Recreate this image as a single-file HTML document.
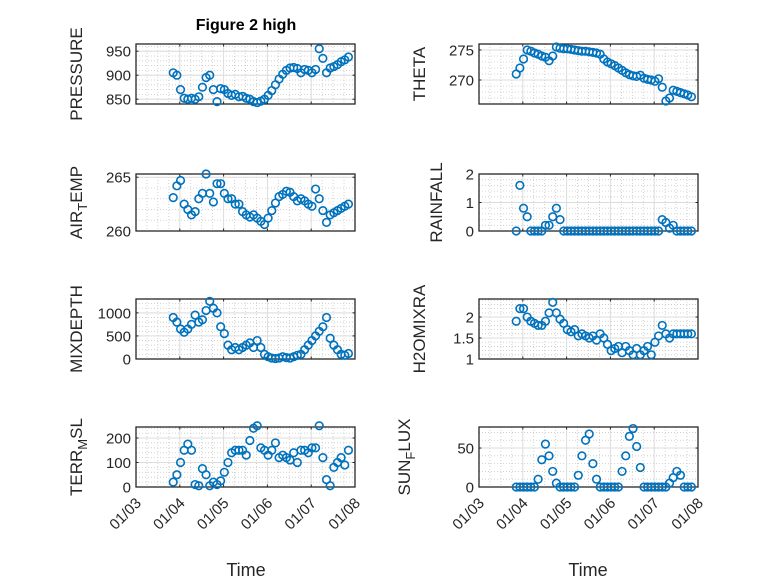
<!DOCTYPE html>
<html><head><meta charset="utf-8"><style>
body{margin:0;background:#fff}
svg text{font-family:"Liberation Sans",sans-serif;fill:#262626}
</style></head><body>
<svg id="fig" width="778" height="583" viewBox="0 0 778 583" xmlns="http://www.w3.org/2000/svg">
<rect width="778" height="583" fill="#fff"/>
<text x="246" y="30" font-size="16" font-weight="bold" text-anchor="middle" style="fill:#000">Figure 2 high</text>
<text x="246" y="576" font-size="18" text-anchor="middle">Time</text>
<text x="588" y="576" font-size="18" text-anchor="middle">Time</text>
</svg>
<script>
const xTickLabels = ["01/03","01/04","01/05","01/06","01/07","01/08"];
const tStart = 3.85, tStep = 2/24;
const pressure = [905,900,870,852,850,852,850,855,875,895,900,870,845,872,870,862,858,860,855,856,852,850,845,843,846,850,858,868,880,892,902,910,915,916,914,905,912,910,905,912,955,935,905,915,918,922,928,932,938];
const theta = [271,272,273.5,275,274.8,274.5,274.3,274,273.8,273.2,274,275.5,275.3,275.2,275.2,275.1,275,274.9,274.8,274.8,274.7,274.6,274.5,274.3,273.5,273,272.7,272.4,272,271.6,271.2,270.9,270.7,270.6,270.8,270.3,270.1,270,269.8,270.2,268.8,266.5,267,268.3,268.1,267.9,267.7,267.5,267.2];
const airTemp = [263.1,264.2,264.7,262.5,262,261.5,261.8,263,263.5,265.3,263.5,262.7,264.4,264.4,263.5,263,263,262.5,262.5,261.8,261.5,261.3,261.5,261.2,260.9,260.6,261.2,261.9,262.6,263.2,263.4,263.7,263.6,263.2,262.8,263,262.8,262.5,262.3,263.9,263,261.9,260.8,261.5,261.7,261.9,262.1,262.3,262.5];
const rainfall = [0,1.6,0.8,0.5,0,0,0,0,0.2,0.2,0.5,0.8,0.4,0,0,0,0,0,0,0,0,0,0,0,0,0,0,0,0,0,0,0,0,0,0,0,0,0,0,0,0.4,0.3,0.1,0.2,0,0,0,0,0];
const mixDepth = [900,800,650,580,650,750,950,800,850,1050,1250,1100,1000,700,550,300,200,250,200,250,300,350,250,400,250,100,50,20,10,20,50,30,20,50,80,100,200,300,400,500,600,700,900,450,300,200,100,80,120];
const h2oMixRa = [1.9,2.2,2.2,2.0,1.9,1.85,1.8,1.8,1.9,2.1,2.35,2.1,1.95,1.85,1.7,1.65,1.7,1.55,1.6,1.55,1.5,1.55,1.45,1.6,1.5,1.35,1.2,1.25,1.3,1.15,1.3,1.2,1.1,1.25,1.1,1.2,1.3,1.1,1.4,1.55,1.8,1.6,1.5,1.6,1.6,1.6,1.6,1.6,1.6];
const terrMsl = [20,50,100,150,175,150,10,5,75,50,5,20,10,25,60,100,140,150,150,150,130,190,240,250,160,150,130,150,180,120,130,120,110,140,100,150,150,140,160,160,250,120,30,5,80,100,120,90,150];
const sunFlux = [0,0,0,0,0,0,10,35,55,40,20,5,0,0,0,0,0,15,40,60,68,30,10,0,0,0,0,0,0,20,40,65,75,52,25,0,0,0,0,0,0,0,5,12,20,15,0,0,0];
const pressureTicks=[850,900,950], thetaTicks=[270,275], airTicks=[260,265], rainTicks=[0,1,2], mixTicks=[0,500,1000], h2oTicks=[1,1.5,2], terrTicks=[0,100,200], sunTicks=[0,50];

const NS="http://www.w3.org/2000/svg";
const svg=document.getElementById('fig');
function mk(tag,attrs,parent){const e=document.createElementNS(NS,tag);for(const k in attrs)e.setAttribute(k,attrs[k]);(parent||svg).appendChild(e);return e;}
const panels=[
 {name:'pressure',data:pressure,ticks:pressureTicks,lab:['PRESSURE'],x0:136,x1:355,y0:44,y1:104,min:840,max:965,lx:82,last:false},
 {name:'theta',data:theta,ticks:thetaTicks,lab:['THETA'],x0:479,x1:698,y0:44,y1:104,min:266,max:276,lx:425,last:false},
 {name:'air-temp',data:airTemp,ticks:airTicks,lab:['AIR','T','EMP'],x0:136,x1:355,y0:174,y1:231,min:260,max:265.3,lx:82,last:false},
 {name:'rainfall',data:rainfall,ticks:rainTicks,lab:['RAINFALL'],x0:479,x1:698,y0:174,y1:231,min:0,max:2,lx:442,last:false},
 {name:'mixdepth',data:mixDepth,ticks:mixTicks,lab:['MIXDEPTH'],x0:136,x1:355,y0:299,y1:359,min:0,max:1300,lx:82,last:false},
 {name:'h2omixra',data:h2oMixRa,ticks:h2oTicks,lab:['H2OMIXRA'],x0:479,x1:698,y0:299,y1:359,min:1,max:2.43,lx:425,last:false},
 {name:'terr-msl',data:terrMsl,ticks:terrTicks,lab:['TERR','M','SL'],x0:136,x1:355,y0:427,y1:487,min:0,max:245,lx:82,last:true},
 {name:'sun-flux',data:sunFlux,ticks:sunTicks,lab:['SUN','F','LUX'],x0:479,x1:698,y0:427,y1:487,min:0,max:77,lx:410,last:true}
];
panels.forEach(p=>{
 const g=mk('g',{});
 
 
 const xs=t=>p.x0+(t-3)/5*(p.x1-p.x0);
 const ys=v=>p.y1-(v-p.min)/(p.max-p.min)*(p.y1-p.y0);
 for(let d=3;d<8;d+=0.25){if(Math.abs(d-Math.round(d))<1e-6)continue;mk('line',{x1:xs(d),x2:xs(d),y1:p.y0,y2:p.y1,stroke:'#c8c8c8','stroke-dasharray':'1,2','stroke-width':0.8},g);}
 const step=p.ticks[1]-p.ticks[0];
 for(let v=p.ticks[0]-step;v<=p.max+step;v+=step/5){if(v<=p.min||v>=p.max)continue;mk('line',{x1:p.x0,x2:p.x1,y1:ys(v),y2:ys(v),stroke:'#c8c8c8','stroke-dasharray':'1,2','stroke-width':0.8},g);}
 for(let d=4;d<8;d++)mk('line',{x1:xs(d),x2:xs(d),y1:p.y0,y2:p.y1,stroke:'#dcdcdc','stroke-width':1},g);
 p.ticks.forEach(v=>{const y=ys(v);mk('line',{x1:p.x0,x2:p.x1,y1:y,y2:y,stroke:'#dcdcdc','stroke-width':1},g);
  const t=mk('text',{x:p.x0-5,y:y+5.5,'font-size':15,'text-anchor':'end'},g);t.textContent=v;});
 for(let d=3;d<=8;d++){mk('line',{x1:xs(d),x2:xs(d),y1:p.y1,y2:p.y1-2.5,stroke:'#262626'},g);mk('line',{x1:xs(d),x2:xs(d),y1:p.y0,y2:p.y0+2.5,stroke:'#262626'},g);}
 p.ticks.forEach(v=>{mk('line',{x1:p.x0,x2:p.x0+2.5,y1:ys(v),y2:ys(v),stroke:'#262626'},g);mk('line',{x1:p.x1,x2:p.x1-2.5,y1:ys(v),y2:ys(v),stroke:'#262626'},g);});
 mk('rect',{x:p.x0,y:p.y0,width:p.x1-p.x0,height:p.y1-p.y0,fill:'none',stroke:'#262626','stroke-width':1.3},g);
 const cy=(p.y0+p.y1)/2;
 const lab=mk('text',{x:p.lx,y:cy,'font-size':17,'text-anchor':'middle',transform:`rotate(-90 ${p.lx} ${cy})`},g);
 
 
 if(p.lab.length===1)lab.textContent=p.lab[0];
 else{const a=mk('tspan',{},lab);a.textContent=p.lab[0];const b=mk('tspan',{dy:5,'font-size':13},lab);b.textContent=p.lab[1];const c=mk('tspan',{dy:-5},lab);c.textContent=p.lab[2];}
 if(p.last){xTickLabels.forEach((s,i)=>{const x=xs(3+i)+6,y=p.y1+17;const t=mk('text',{x:x,y:y,'font-size':15,'text-anchor':'end',transform:`rotate(-45 ${x} ${y})`},g);t.textContent=s;});}
 p.data.forEach((v,i)=>{const c=mk('circle',{cx:xs(tStart+i*tStep),cy:ys(v),r:3.8,fill:'none',stroke:'#0072bd','stroke-width':1.6},g);
  
  });
});
</script>
</body></html>
